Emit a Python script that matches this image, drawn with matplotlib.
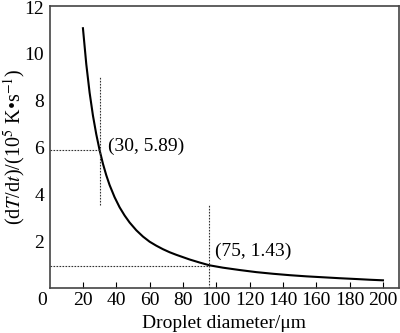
import numpy as np
import matplotlib
matplotlib.use('Agg')
import matplotlib.pyplot as plt

plt.rcParams['font.family'] = ['Liberation Serif', 'DejaVu Serif']
plt.rcParams['mathtext.fontset'] = 'stix'

# Valores
diameter = [20, 22, 24, 26, 28, 30, 32, 34, 36, 39, 42, 45, 48, 52, 56, 60, 64,
            68, 72, 76, 80, 84, 90, 96, 104, 114, 124, 134, 144, 154, 164, 174,
            184, 192, 200]
rate = [11.1, 9.57, 8.35, 7.37, 6.57, 5.89, 5.31, 4.82, 4.40, 3.88, 3.45, 3.10,
        2.80, 2.47, 2.20, 1.98, 1.81, 1.66, 1.53, 1.42, 1.32, 1.22, 1.09, 0.97,
        0.87, 0.77, 0.68, 0.61, 0.55, 0.50, 0.46, 0.42, 0.385, 0.355, 0.33]

marks = [(30, 5.89, 9.05, 3.55), (95.7, 0.95, 3.55, 0.0)]
labels = ['(30, 5.89)', '(75, 1.43)']
label_pos = [(35, 6.05), (99.5, 1.55)]

xticks = [20, 40, 60, 80, 100, 120, 140, 160, 180, 200]
yticks = [2, 4, 6, 8, 10, 12]

fig = plt.figure(figsize=(4, 3.33), dpi=100)
ax = fig.add_axes([0.124, 0.135, 0.873, 0.847])

ax.plot(diameter, rate, color='black', lw=1.5)

for (x, y, top, bot) in marks:
    ax.plot([0, x], [y, y], color='#333', lw=0.8, ls=(0, (1.5, 1.2)))
    ax.plot([x, x], [bot, top], color='#333', lw=0.8, ls=(0, (1.5, 1.2)))

for txt, (lx, ly) in zip(labels, label_pos):
    ax.text(lx, ly, txt, fontsize=14, va='center', ha='left')

ax.set_xlim(0, 209.5)
ax.set_ylim(0, 12.05)
ax.set_xticks(xticks)
ax.set_yticks(yticks)
ax.tick_params(axis='x', direction='in', length=4, labelsize=14, pad=3)
ax.tick_params(axis='y', direction='in', length=0, labelsize=14, pad=4)
ax.text(-4.5, -0.15, '0', fontsize=14, ha='center', va='top')

for s in ax.spines.values():
    s.set_color('#444')
    s.set_linewidth(1.2)

ax.set_xlabel('Droplet diameter/μm', fontsize=14, labelpad=4)
ax.set_ylabel(r'(d$\mathit{T}$/d$\mathit{t}$)/(10$^5$ K•s$^{-1}$)', fontsize=14.5)
ax.yaxis.set_label_coords(-0.063, 0.5)

fig.savefig('out.png', dpi=100)
